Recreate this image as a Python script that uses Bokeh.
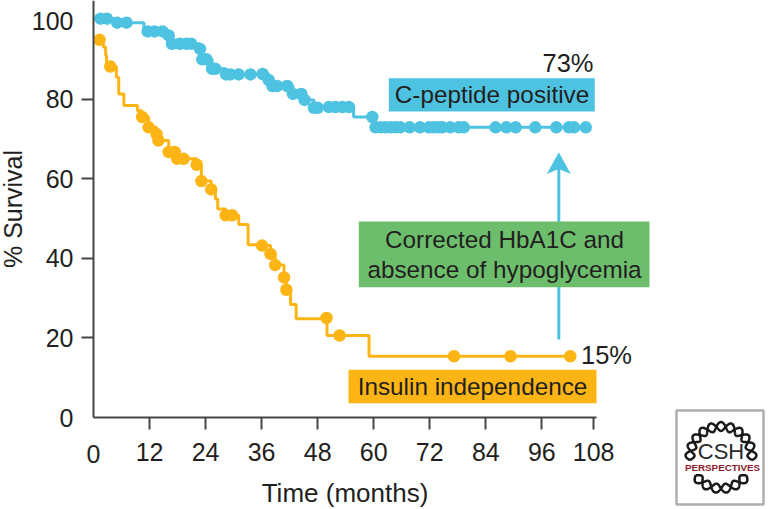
import numpy as np
from bokeh.embed import file_html
from bokeh.resources import INLINE
from bokeh.plotting import figure
from bokeh.models import FixedTicker
from bokeh.core.properties import value

# ---- data ----
cpep_marker_month = [1.5, 2.9, 5.07, 7.07, 11.6, 13.1, 14.8, 16.1, 16.8, 18.5, 19.9, 20.9, 22.8, 23.3, 24.2, 25.4, 26.1,
                     28.4, 29.3, 31.1, 33.6, 36.2, 37.5, 38.3, 39.3, 41.5, 42.7, 44.5, 45.2, 47.2, 48.0, 50.4, 51.8,
                     53.3, 54.7, 59.7, 60.4, 61.5, 62.5, 63.6, 64.7, 65.7, 67.7, 69.9, 71.8, 72.9, 73.9, 74.7, 76.4,
                     78.2, 79.3, 86.1, 88.4, 90.4, 94.6, 99.1, 101.8, 102.9, 105.4]
cpep_marker_pct = [100.2, 100.2, 99.2, 99.2, 97.0, 97.0, 97.0, 96.0, 93.9, 93.9, 93.9, 93.9, 92.6, 90.0, 90.0, 87.6, 87.6,
                   86.2, 86.2, 86.2, 86.2, 86.3, 84.8, 83.3, 83.3, 83.3, 81.3, 81.3, 79.8, 77.8, 77.8, 78.0, 78.0,
                   78.0, 78.0, 75.5, 72.9, 72.9, 72.9, 72.9, 72.9, 72.9, 72.9, 72.9, 72.9, 72.9, 72.9, 72.9, 72.9,
                   72.9, 72.9, 72.9, 72.9, 72.9, 72.9, 72.9, 72.9, 72.9, 72.9]
cpep_knot_month = [0.0, 10.8, 55.7]
cpep_knot_pct = [100.2, 97.0, 75.5]

ins_marker_month = [1.3, 3.6, 10.4, 11.8, 13.5, 13.9, 16.1, 17.4, 17.9, 19.3, 22.1, 23.1, 25.2, 28.3, 29.7,
                    36.1, 37.9, 38.9, 40.8, 41.3, 49.9, 52.7, 77.2, 89.3, 102.1]
ins_marker_pct = [94.9, 88.2, 75.5, 72.9, 71.2, 69.6, 66.7, 66.7, 65.0, 65.0, 63.5, 59.4, 57.3, 50.8, 50.8,
                  43.2, 41.1, 38.3, 35.2, 32.1, 25.0, 20.6, 15.4, 15.4, 15.4]
ins_knot_month = [2.1, 2.6, 2.8, 4.9, 5.4, 6.5, 9.4, 26.1, 26.6, 31.1, 33.1, 42.2, 43.4, 50.0, 59.0]
ins_knot_pct = [93.1, 91.0, 88.2, 85.5, 81.3, 78.4, 77.1, 54.9, 52.4, 48.5, 43.4, 28.4, 24.8, 20.6, 15.4]

x_ticks = [12, 24, 36, 48, 60, 72, 84, 96, 107.1]
x_tick_labels = ["12", "24", "36", "48", "60", "72", "84", "96", "108"]
y_ticks = [20, 40, 60, 80]

CYAN = "#4EC3E1"
ORANGE = "#FDB515"
GREEN = "#6DBE6C"
INK = "#231F20"
AXIS = "#454545"
FONT = "Liberation Sans"
SX, SY, X0, Y0 = 4.67, 3.98, 93.0, 417.0
W, H = 770, 509


def dx(px):
    return (np.asarray(px, dtype=float) - X0) / SX


def dy(py):
    return (Y0 - np.asarray(py, dtype=float)) / SY


p = figure(width=W, height=H, output_backend="svg", toolbar_location=None,
           x_range=(float(dx(0)), float(dx(W))), y_range=(float(dy(H)), float(dy(0))),
           min_border=0, min_border_left=0, min_border_right=0, min_border_top=0, min_border_bottom=0)
p.outline_line_color = None
p.grid.visible = False

xa = p.xaxis[0]
ya = p.yaxis[0]
xa.fixed_location = 0
ya.fixed_location = 0
xa.bounds = (0, 107.7)
ya.bounds = (0, float(dy(0)))
xa.ticker = FixedTicker(ticks=x_ticks)
ya.ticker = FixedTicker(ticks=y_ticks)
xa.major_label_overrides = dict(zip(x_ticks, x_tick_labels))
xa.minor_tick_line_color = None
ya.minor_tick_line_color = None
for a in (xa, ya):
    a.axis_line_color = AXIS
    a.axis_line_width = 2
    a.major_tick_line_color = AXIS
    a.major_tick_line_width = 2
    a.major_tick_in = 0
    a.major_tick_out = 12
    a.major_label_text_font = FONT
    a.major_label_text_font_size = "25px"
    a.major_label_text_color = INK
    a.axis_label_text_font = FONT
    a.axis_label_text_font_style = "normal"
    a.axis_label_text_color = INK
xa.axis_label_text_font_size = "26px"
ya.axis_label_text_font_size = "25px"
xa.major_label_standoff = 13
ya.major_label_standoff = 8
ya.major_label_orientation = "horizontal"
xa.axis_label = "Time (months)"
ya.axis_label = "% Survival"
xa.axis_label_standoff = 14
ya.axis_label_standoff = 16


def txt(px, py, s, align="center", size="24.3px", color=INK, font=FONT, style="normal"):
    p.text([float(dx(px))], [float(dy(py))], text=[s], text_align=align, text_baseline="middle",
           text_font=value(font), text_font_size=size, text_color=color, text_font_style=style)


txt(73, 20, "100", "right", "25px")
txt(73, 417, "0", "right", "25px")
txt(93, 453, "0", "center", "25px")

# curves
cx = np.array(cpep_marker_month + cpep_knot_month)
cy = np.array(cpep_marker_pct + cpep_knot_pct)
o = np.argsort(cx)
p.step(cx[o], cy[o], mode="after", line_color=CYAN, line_width=3)
ix = np.array(ins_marker_month + ins_knot_month)
iy = np.array(ins_marker_pct + ins_knot_pct)
o = np.argsort(ix)
p.step(ix[o], iy[o], mode="after", line_color=ORANGE, line_width=3)
p.scatter(cpep_marker_month, cpep_marker_pct, size=12.5, fill_color=CYAN, line_color=None)
p.scatter(ins_marker_month, ins_marker_pct, size=12.5, fill_color=ORANGE, line_color=None)

# arrow
p.segment([float(dx(558.3))], [float(dy(339))], [float(dx(558.3))], [float(dy(165))], line_color=CYAN, line_width=3)
p.patch(dx([558.3, 570.3, 558.3, 546.3]), dy([151.7, 173.5, 168.5, 173.5]), fill_color=CYAN, line_color=None)


def box(l, r, t, b, c):
    p.quad(left=[float(dx(l))], right=[float(dx(r))], top=[float(dy(t))], bottom=[float(dy(b))],
           fill_color=c, line_color=None)


box(388.3, 594.3, 77.7, 111, CYAN)
box(348, 596, 369.3, 402.7, ORANGE)
box(358.3, 649, 221, 286.7, GREEN)
txt(491.5, 94, "C-peptide positive")
txt(472, 386, "Insulin independence")
txt(504, 239, "Corrected HbA1C and")
txt(504, 269, "absence of hypoglycemia")
txt(593, 62, "73%", "right", "25.5px")
txt(580.5, 354.5, "15%", "left", "25.5px")

# CSH Perspectives logo
box(676, 763, 410, 504, "#FFFFFF")
p.quad(left=[float(dx(676))], right=[float(dx(763))], top=[float(dy(410))], bottom=[float(dy(504))],
       fill_color=None, line_color="#AEAEAE", line_width=2.5)
cxp, cyp, R, A = 720.5, 457.0, 31.0, 4.5
for a0, a1, n in ((-5, 185, 5.5), (215, 325, 3.0)):
    th = np.radians(np.linspace(a0, a1, 240))
    ph = np.linspace(0, 2 * np.pi * n, 240)
    for sg in (1, -1):
        r = R + sg * A * np.sin(ph)
        p.line(dx(cxp + r * np.cos(th)), dy(cyp - r * np.sin(th)), line_color="#1A1A1A", line_width=2.5)
txt(720.5, 451, "CSH", "center", "22px", "#2A2A2A")
txt(722, 467, "PERSPECTIVES", "center", "9.8px", "#8A1C2E", FONT, "bold")

open("out.html", "w").write(file_html(p, INLINE))
